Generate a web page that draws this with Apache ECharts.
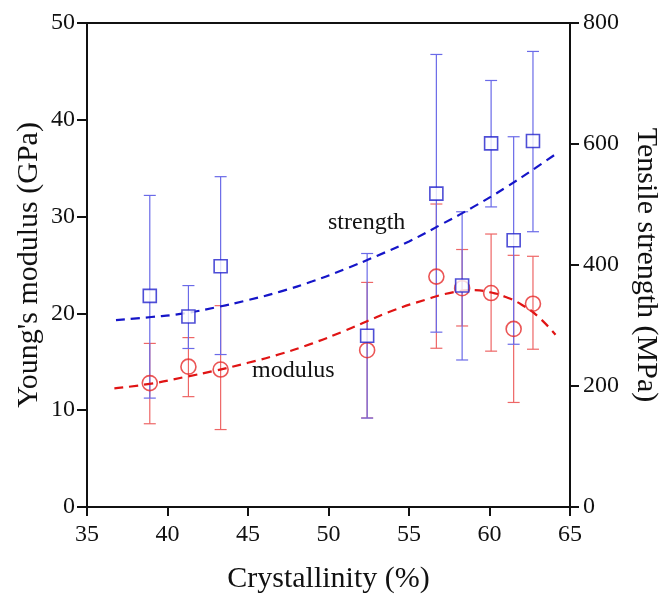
<!DOCTYPE html>
<html>
<head>
<meta charset="utf-8">
<script src="https://cdn.jsdelivr.net/npm/echarts@6/dist/echarts.min.js"></script>
<style>
html,body{margin:0;padding:0;background:#fff;}
#chart{width:659px;height:594px;}
</style>
</head>
<body>
<div id="chart"></div>
<script>
// ---- data ----
var crystallinity = [38.9, 41.3, 43.3, 52.4, 56.7, 58.3, 60.1, 61.5, 62.7];
var modulus      = [12.8, 14.5, 14.2, 16.2, 23.8, 22.6, 22.1, 18.4, 21.0];
var modulusLow   = [8.6, 11.4, 8.0, 9.2, 16.4, 18.7, 16.1, 10.8, 16.3];
var modulusHigh  = [16.9, 17.5, 20.8, 23.2, 31.3, 26.6, 28.2, 26.0, 25.9];
var strength     = [349, 315, 398, 283, 518, 366, 601, 441, 605];
var strengthLow  = [180, 262, 252, 147, 289, 243, 496, 269, 455];
var strengthHigh = [515, 366, 546, 419, 748, 488, 705, 612, 753];

var strengthFitX = [36.8, 39, 41, 43, 45, 47, 49, 51, 53, 55, 57, 59, 61, 63, 64.2];
var strengthFitY = [309, 314, 320, 330, 342, 356, 373, 393, 415, 439, 467, 496, 528, 563, 585];
var modulusFitX  = [36.7, 39, 41, 43, 45, 47, 49, 51, 52.4, 54, 56, 57.5, 59, 60, 61, 62, 63, 64.1];
var modulusFitY  = [12.25, 12.75, 13.4, 14.1, 14.9, 15.8, 16.9, 18.2, 19.2, 20.3, 21.4, 22.1, 22.4, 22.2, 21.7, 20.9, 19.7, 17.8];

var xTicks = [35, 40, 45, 50, 55, 60, 65];
var leftTicks = [0, 10, 20, 30, 40, 50];
var rightTicks = [0, 200, 400, 600, 800];

var FONT = "'Liberation Serif','Times New Roman',serif";

function zip(a, b) { return a.map(function (v, i) { return [v, b[i]]; }); }
function zip3(a, b, c) { return a.map(function (v, i) { return [v, b[i], c[i]]; }); }

function errRender(color) {
  return function (params, api) {
    var x = api.value(0);
    var lo = api.coord([x, api.value(1)]);
    var hi = api.coord([x, api.value(2)]);
    var w = 6;
    var st = { stroke: color, lineWidth: 1.2 };
    return {
      type: 'group',
      children: [
        { type: 'line', shape: { x1: lo[0], y1: lo[1], x2: hi[0], y2: hi[1] }, style: st },
        { type: 'line', shape: { x1: lo[0] - w, y1: lo[1], x2: lo[0] + w, y2: lo[1] }, style: st },
        { type: 'line', shape: { x1: hi[0] - w, y1: hi[1], x2: hi[0] + w, y2: hi[1] }, style: st }
      ]
    };
  };
}

var axisLineStyle = { color: '#111', width: 2 };
var chart = echarts.init(document.getElementById('chart'));
chart.setOption({
  animation: false,
  backgroundColor: '#fff',
  grid: { left: 87, right: 89, top: 23, bottom: 87, show: false, containLabel: false, outerBoundsMode: 'none' },
  xAxis: {
    type: 'value', min: xTicks[0], max: xTicks[xTicks.length - 1], interval: 5,
    name: 'Crystallinity (%)', nameLocation: 'middle', nameGap: 57, nameMoveOverlap: false,
    nameTextStyle: { fontFamily: FONT, fontSize: 30, color: '#111' },
    axisLine: { show: true, lineStyle: axisLineStyle },
    axisTick: { show: true, inside: false, length: 9, lineStyle: { color: '#111', width: 2 } },
    axisLabel: { fontFamily: FONT, fontSize: 24, color: '#111', margin: 16 },
    splitLine: { show: false }
  },
  yAxis: [
    {
      type: 'value', min: leftTicks[0], max: leftTicks[leftTicks.length - 1], interval: 10,
      position: 'left',
      name: "Young's modulus (GPa)", nameLocation: 'middle', nameGap: 43, nameMoveOverlap: false,
      nameTextStyle: { fontFamily: FONT, fontSize: 30, color: '#111' },
      axisLine: { show: true, lineStyle: axisLineStyle },
      axisTick: { show: true, length: 10, lineStyle: { color: '#111', width: 2 } },
      axisLabel: { fontFamily: FONT, fontSize: 24, color: '#111', margin: 12 },
      splitLine: { show: false }
    },
    {
      type: 'value', min: rightTicks[0], max: rightTicks[rightTicks.length - 1], interval: 200,
      position: 'right',
      name: 'Tensile strength (MPa)', nameLocation: 'middle', nameGap: 61, nameRotate: -90, nameMoveOverlap: false,
      nameTextStyle: { fontFamily: FONT, fontSize: 30, color: '#111' },
      axisLine: { show: true, lineStyle: axisLineStyle },
      axisTick: { show: true, length: 9, lineStyle: { color: '#111', width: 2 } },
      axisLabel: { fontFamily: FONT, fontSize: 24, color: '#111', margin: 13 },
      splitLine: { show: false }
    }
  ],
  graphic: [
    { type: 'line', shape: { x1: 87, y1: 23, x2: 570, y2: 23 }, style: { stroke: '#111', lineWidth: 2 } },
    { type: 'text', x: 328, y: 223, style: { text: 'strength', font: '24px ' + FONT, fill: '#111', verticalAlign: 'middle' } },
    { type: 'text', x: 252, y: 371, style: { text: 'modulus', font: '24px ' + FONT, fill: '#111', verticalAlign: 'middle' } }
  ],
  series: [
    {
      type: 'custom', yAxisIndex: 0, z: 2,
      renderItem: errRender('#ee6666'),
      data: zip3(crystallinity, modulusLow, modulusHigh)
    },
    {
      type: 'custom', yAxisIndex: 1, z: 2,
      renderItem: errRender('#6a6ae8'),
      data: zip3(crystallinity, strengthLow, strengthHigh)
    },
    {
      type: 'line', yAxisIndex: 1, smooth: true, symbol: 'none', z: 3,
      lineStyle: { color: '#1515c8', width: 2.2, type: [9, 6] },
      data: zip(strengthFitX, strengthFitY)
    },
    {
      type: 'line', yAxisIndex: 0, smooth: true, symbol: 'none', z: 3,
      lineStyle: { color: '#e01414', width: 2.2, type: [9, 6] },
      data: zip(modulusFitX, modulusFitY)
    },
    {
      type: 'scatter', yAxisIndex: 0, symbol: 'circle', symbolSize: 15, z: 4,
      itemStyle: { color: 'rgba(255,255,255,0)', borderColor: '#e62a2a', borderWidth: 1.6 },
      data: zip(crystallinity, modulus)
    },
    {
      type: 'scatter', yAxisIndex: 1, symbol: 'rect', symbolSize: 13, z: 5,
      itemStyle: { color: '#fff', borderColor: '#2222cc', borderWidth: 1.6 },
      data: zip(crystallinity, strength)
    }
  ]
});
</script>
</body>
</html>
